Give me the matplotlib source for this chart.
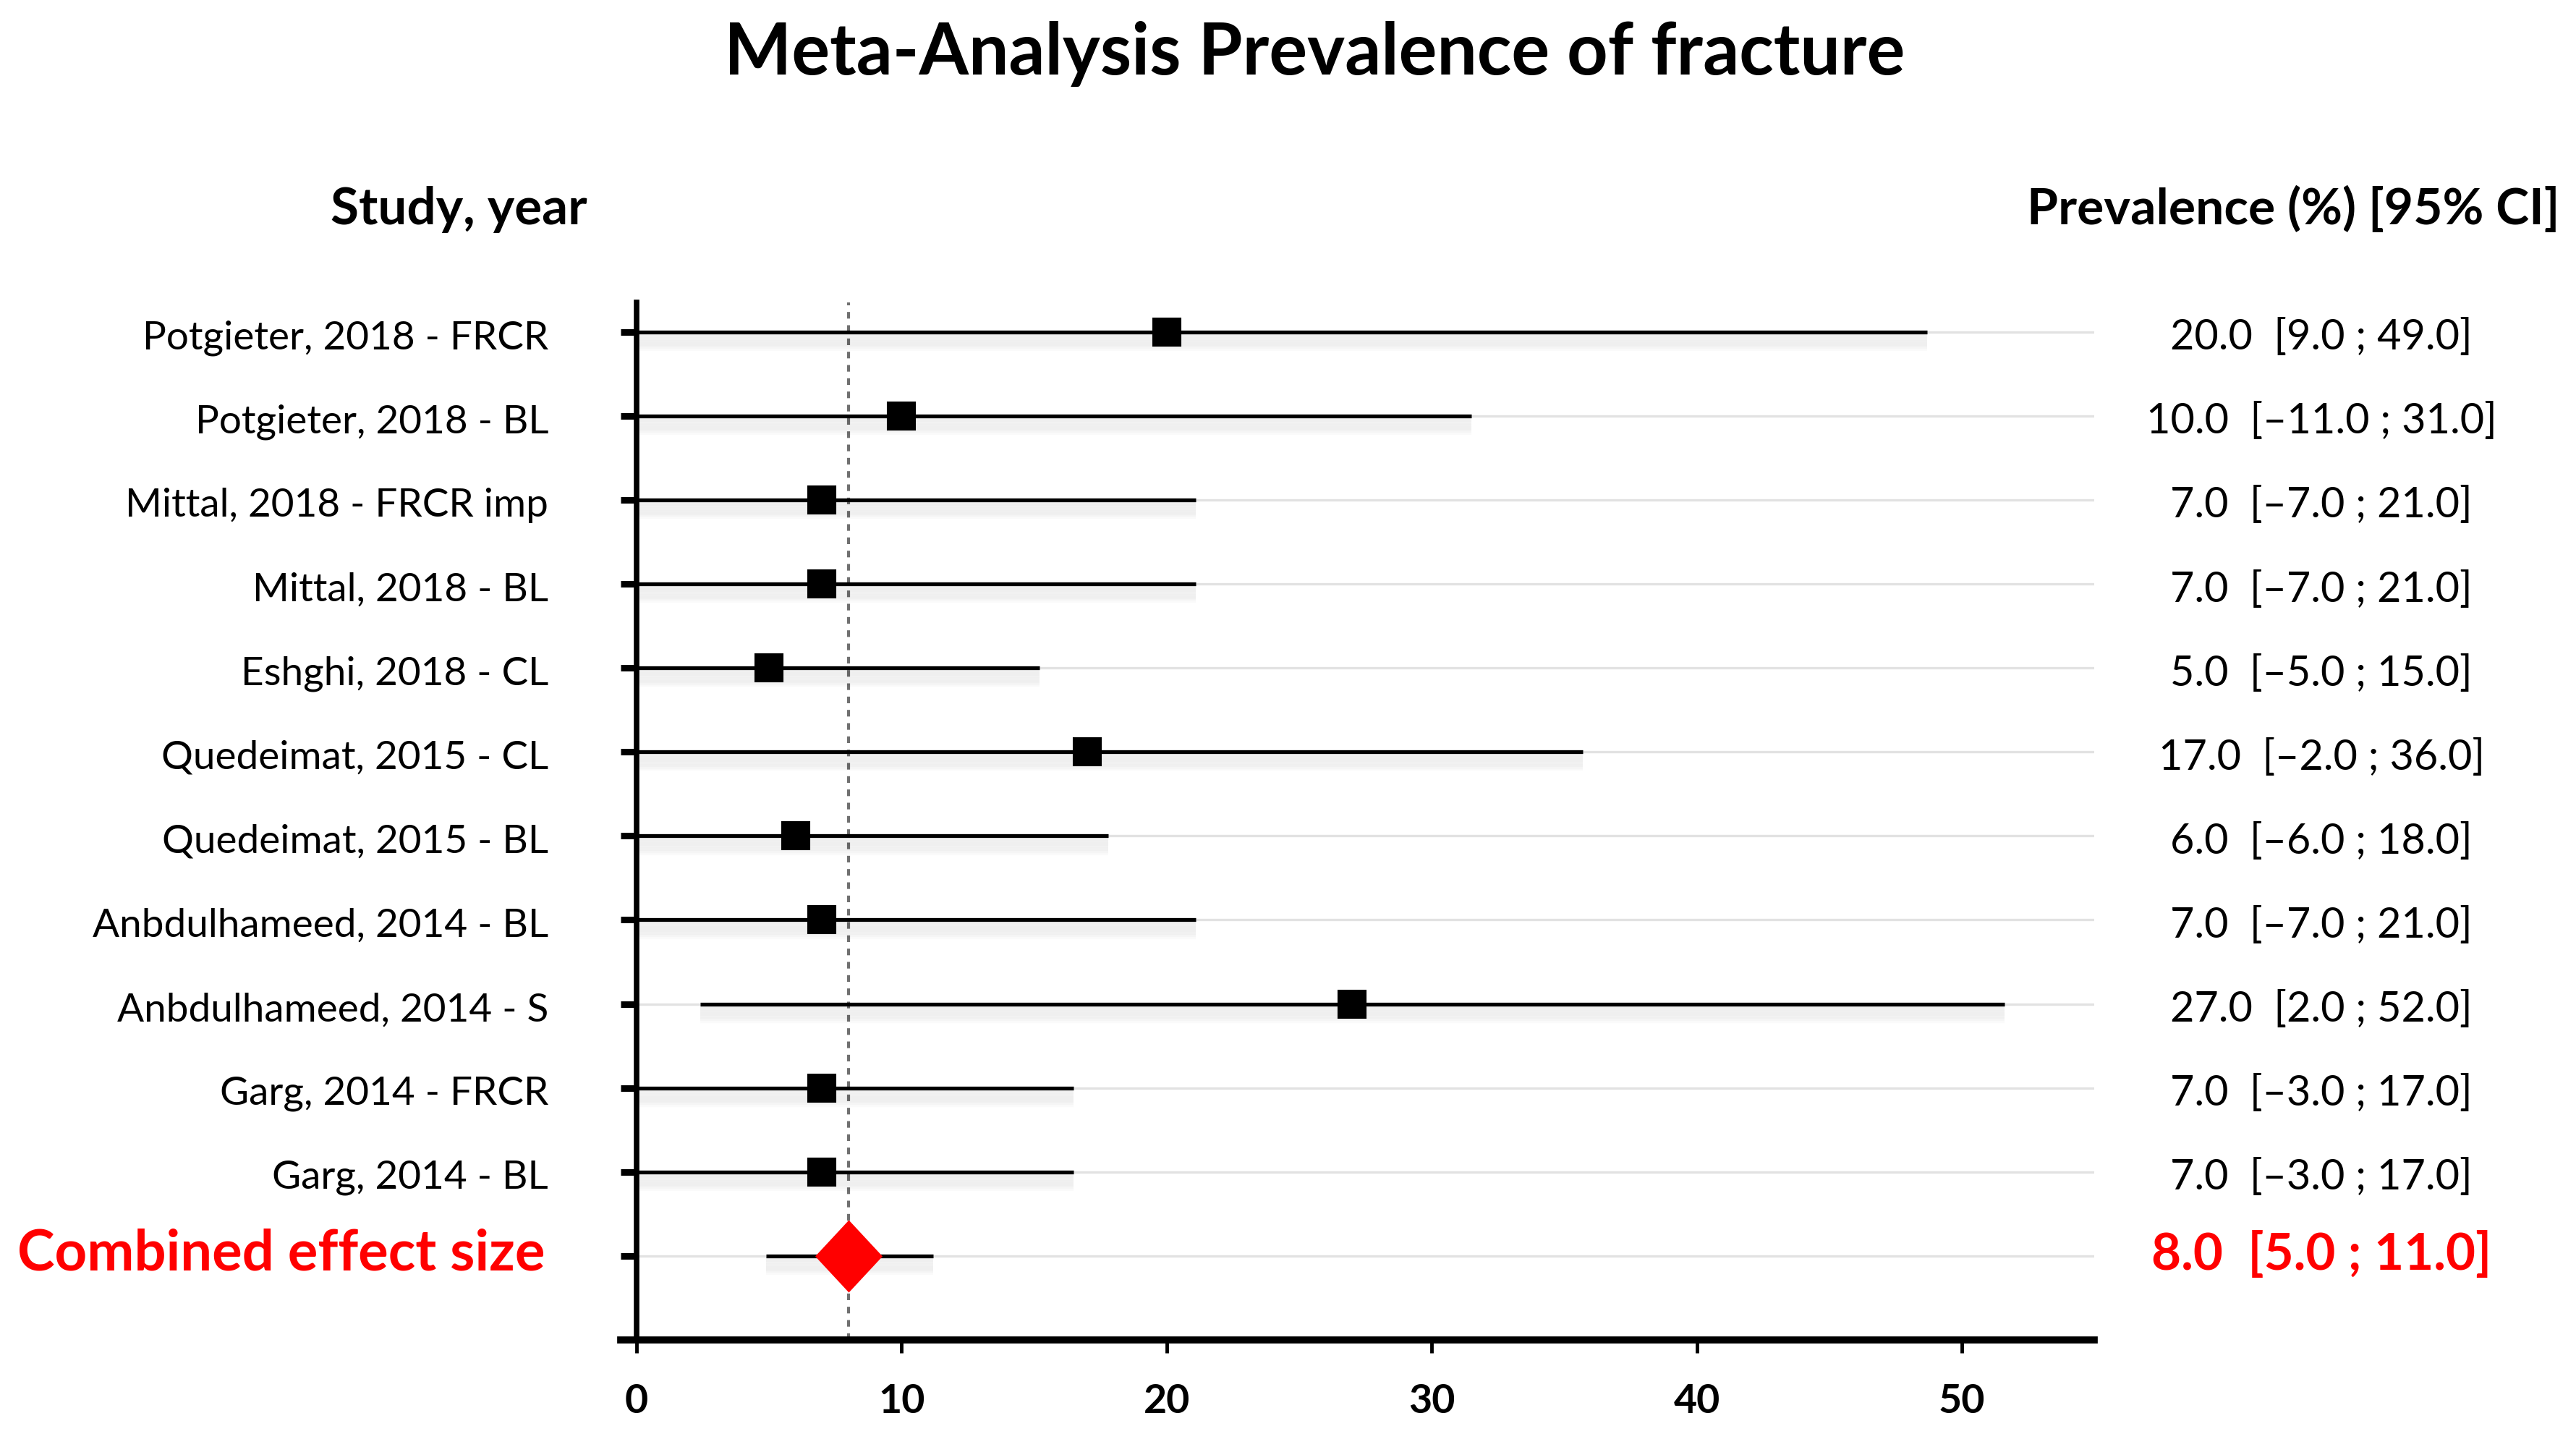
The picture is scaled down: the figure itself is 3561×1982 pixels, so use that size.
import matplotlib
matplotlib.use("Agg")
import matplotlib.pyplot as plt
import matplotlib.patheffects as pe

plt.rcParams['font.family'] = ['Lato', 'DejaVu Sans']

# data
studies = ["Potgieter, 2018 - FRCR", "Potgieter, 2018 - BL", "Mittal, 2018 - FRCR imp",
           "Mittal, 2018 - BL", "Eshghi, 2018 - CL", "Quedeimat, 2015 - CL",
           "Quedeimat, 2015 - BL", "Anbdulhameed, 2014 - BL", "Anbdulhameed, 2014 - S",
           "Garg, 2014 - FRCR", "Garg, 2014 - BL"]
estimates = [20, 10, 7, 7, 5, 17, 6, 7, 27, 7, 7]
ci_low = [0, 0, 0, 0, 0, 0, 0, 0, 2.4, 0, 0]
ci_high = [48.7, 31.5, 21.1, 21.1, 15.2, 35.7, 17.8, 21.1, 51.6, 16.5, 16.5]
ci_text = ["20.0  [9.0 ; 49.0]", "10.0  [\u201311.0 ; 31.0]", "7.0  [\u20137.0 ; 21.0]",
           "7.0  [\u20137.0 ; 21.0]", "5.0  [\u20135.0 ; 15.0]", "17.0  [\u20132.0 ; 36.0]",
           "6.0  [\u20136.0 ; 18.0]", "7.0  [\u20137.0 ; 21.0]", "27.0  [2.0 ; 52.0]",
           "7.0  [\u20133.0 ; 17.0]", "7.0  [\u20133.0 ; 17.0]"]
pooled_label = "Combined effect size"
pooled_est = 8.0
pooled_low, pooled_high = 4.9, 11.2
pooled_text = "8.0  [5.0 ; 11.0]"
xticks = [0, 10, 20, 30, 40, 50]

fig = plt.figure(figsize=(35.61, 19.82), dpi=100)
ax = fig.add_axes([0.2471, 0.0656, 0.5659, 0.7235])

n = len(studies)
rows = list(range(n + 1))

# light gridlines at every row
for y in rows:
    ax.plot([0, 55], [y, y], color='#e2e2e2', lw=2.4, zorder=1, solid_capstyle='butt')

# reference line at pooled estimate
ax.axvline(pooled_est, color='#707070', lw=3, ls=(0, (2.2, 2.2)), zorder=2)

# soft shadow under the CI lines
shadow = [pe.SimpleLineShadow(offset=(0, -(2 + 2.0 * k)), shadow_color='black',
                              alpha=0.02, linewidth=6) for k in range(8)] + [pe.Normal()]

for i in range(n):
    ax.plot([ci_low[i], ci_high[i]], [i, i], color='black', lw=3.8, zorder=3,
            solid_capstyle='butt', path_effects=shadow)
    ax.plot(estimates[i], i, marker='s', ms=27, color='black', zorder=5,
            markeredgewidth=1.5, markeredgecolor='black')

ax.plot([pooled_low, pooled_high], [n, n], color='black', lw=3.8, zorder=3,
        solid_capstyle='butt', path_effects=shadow)
diamond = [(0, 1), (0.93, 0), (0, -1), (-0.93, 0), (0, 1)]
ax.plot(pooled_est, n, marker=diamond, ms=72, color='red', markeredgewidth=0, zorder=6)

ax.set_xlim(0, 55)
ax.set_ylim(12.0, -0.35)

for s in ['top', 'right']:
    ax.spines[s].set_visible(False)
ax.spines['left'].set_linewidth(5.5)
ax.spines['bottom'].set_linewidth(7)
ax.spines['bottom'].set_bounds(-0.6, 55)
ax.spines['left'].set_bounds(12.0, -0.35)

ax.set_yticks(rows)
ax.set_yticklabels([])
ax.tick_params(axis='y', length=16, width=6.5, direction='out')
ax.set_xticks(xticks)
ax.set_xticklabels([str(t) for t in xticks], fontsize=40, fontweight='bold')
ax.tick_params(axis='x', length=13, width=3.5, pad=30)

tr = ax.get_yaxis_transform()
for i, name in enumerate(studies):
    ax.text(-0.0605, i + 0.07, name, transform=tr, ha='right', va='center', fontsize=39.5)
    ax.text(1.1558, i + 0.07, ci_text[i], transform=tr, ha='center', va='center', fontsize=41.5)

ax.text(-0.0625, n - 0.02, pooled_label, transform=tr, ha='right', va='center',
        fontsize=56, fontweight='bold', color='red')
ax.text(1.1558, n - 0.02, pooled_text, transform=tr, ha='center', va='center',
        fontsize=51, fontweight='bold', color='red')

ax.text(-0.122, -1.46, "Study, year", transform=tr, ha='center', va='center',
        fontsize=51, fontweight='bold')
ax.text(1.3195, -1.46, "Prevalence (%) [95% CI]", transform=tr, ha='right', va='center',
        fontsize=50, fontweight='bold')

fig.text(0.5102, 0.9625, "Meta-Analysis Prevalence of fracture", ha='center', va='center',
         fontsize=71, fontweight='bold')

fig.savefig("out.png", dpi=100, facecolor='white')
